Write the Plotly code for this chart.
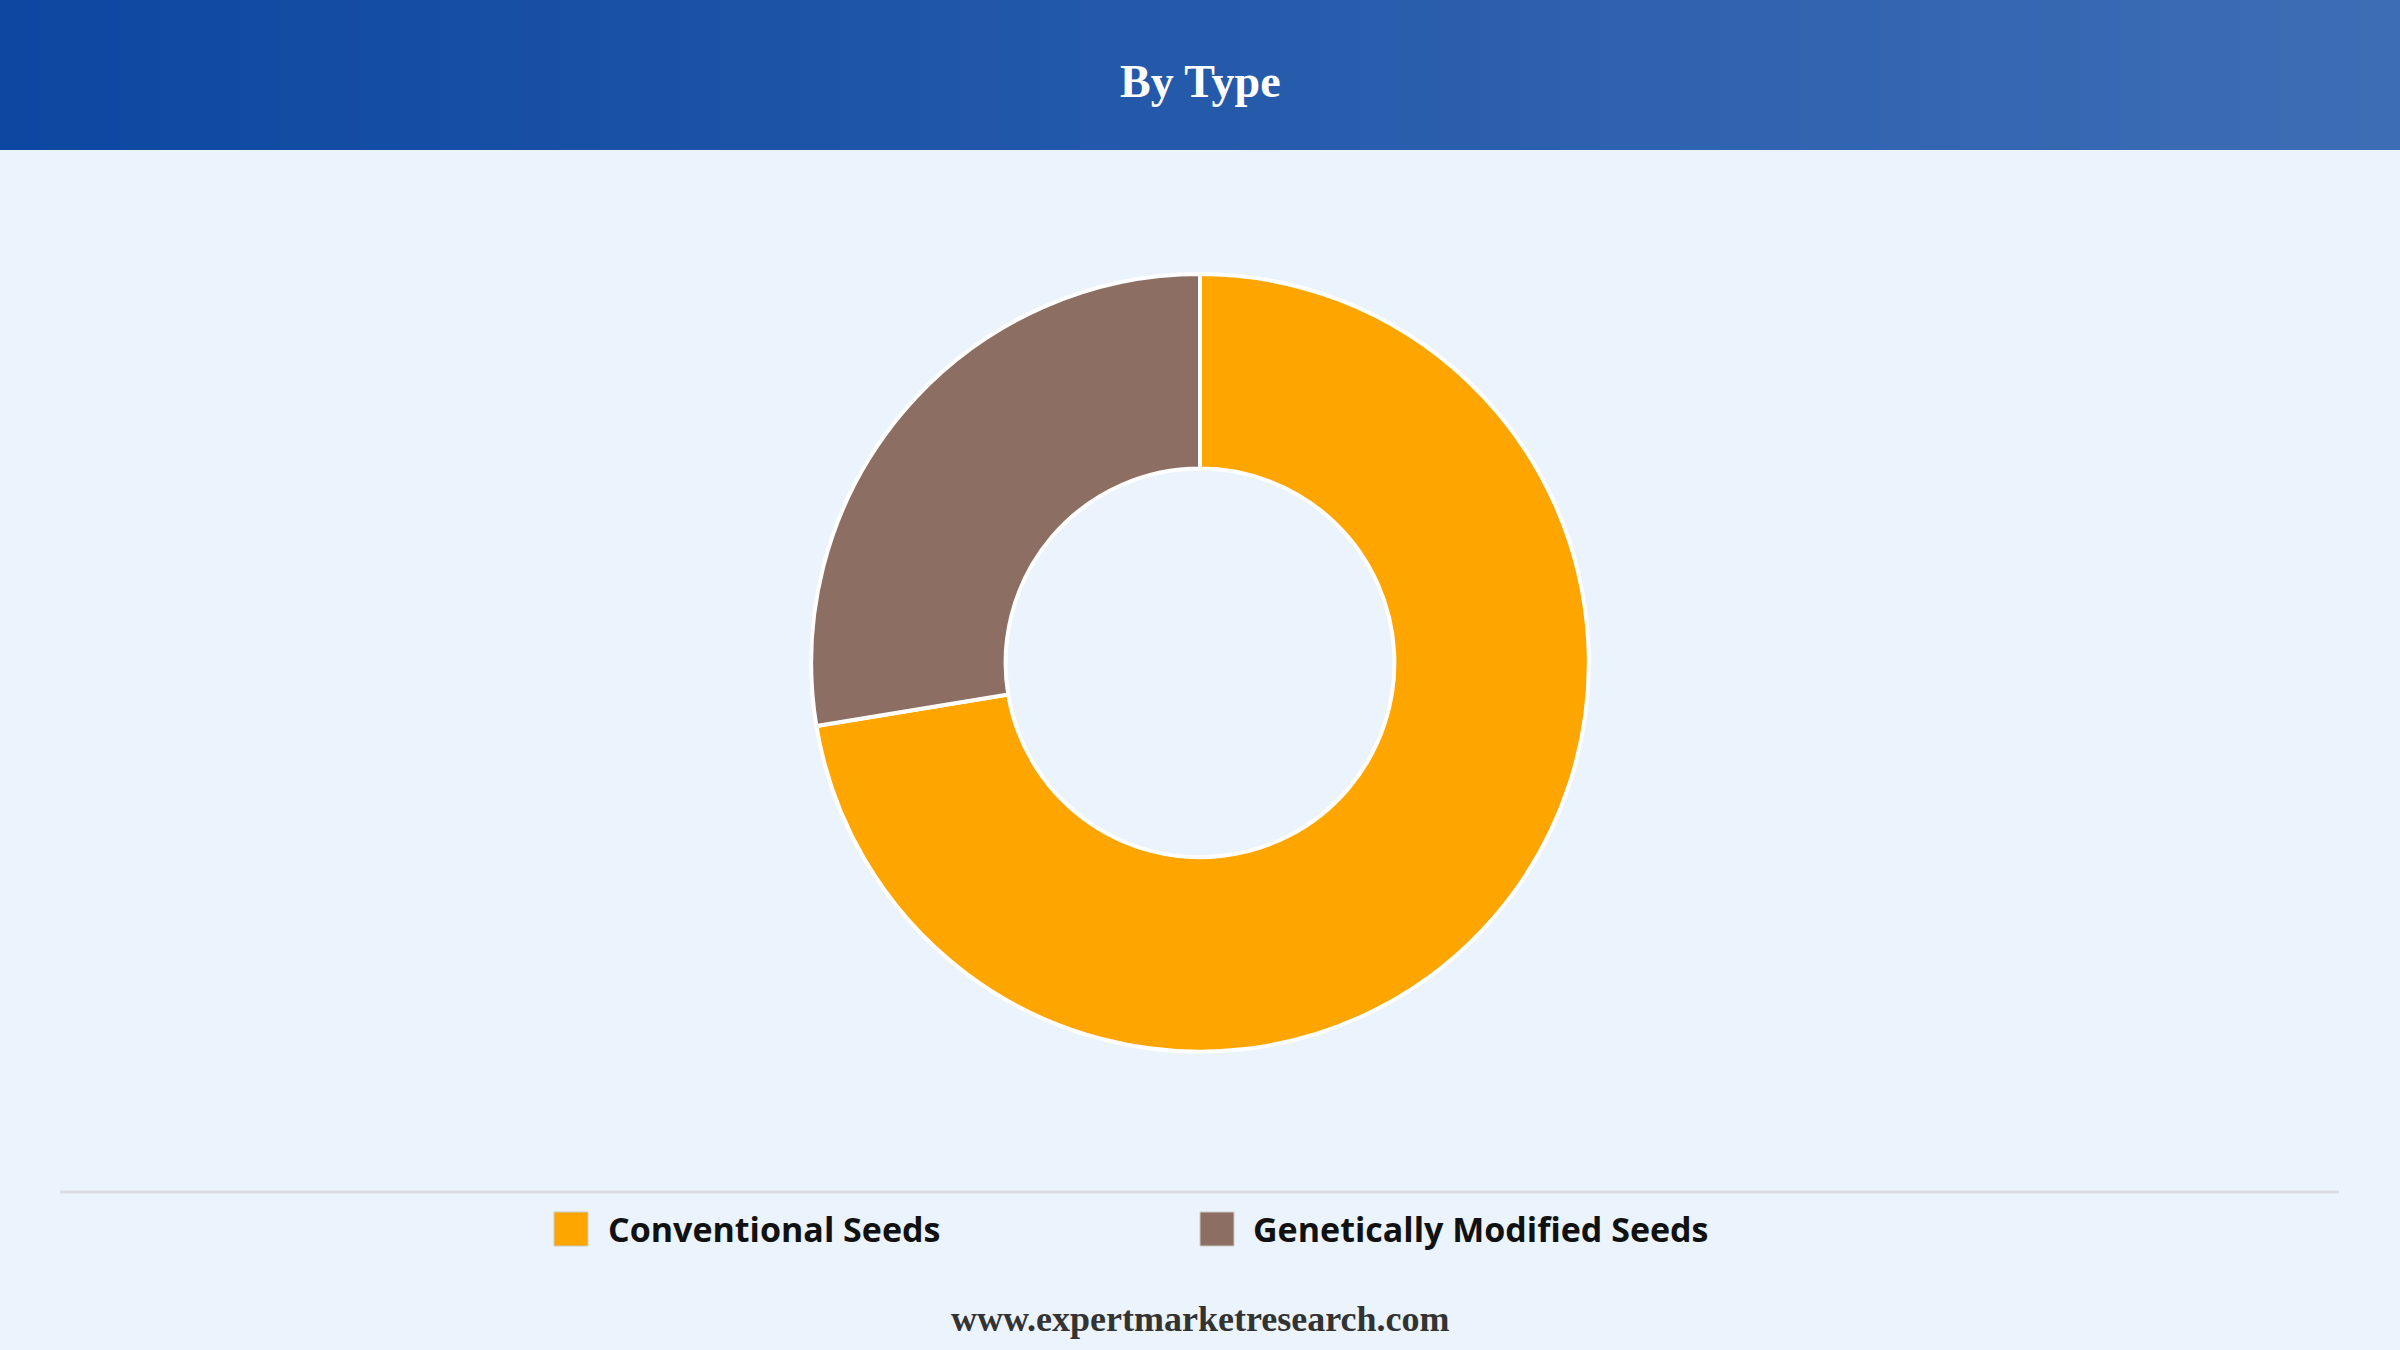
import plotly.graph_objects as go

labels = ["Conventional Seeds", "Genetically Modified Seeds"]
values = [72.4, 27.6]
colors = ["#FFA500", "#8D6E63"]
title = "By Type"
footer = "www.expertmarketresearch.com"

W, H = 2400, 1350
fig = go.Figure(go.Pie(
    labels=labels, values=values, hole=0.5, sort=False, direction="clockwise",
    rotation=0, marker=dict(colors=colors, line=dict(color="white", width=4)),
    textinfo="none", hoverinfo="label+percent",
    domain=dict(x=[0.338, 0.662], y=[0.221, 0.797]),
))

shapes = []
n = 60
c0, c1 = (13, 71, 161), (61, 109, 181)
for i in range(n):
    t = i / (n - 1)
    col = "rgb(%d,%d,%d)" % tuple(round(a + (b - a) * t) for a, b in zip(c0, c1))
    shapes.append(dict(type="rect", xref="paper", yref="paper", x0=i / n, x1=(i + 1) / n + 0.001,
                       y0=1 - 150 / H, y1=1, fillcolor=col, line=dict(width=0), layer="below"))
shapes.append(dict(type="line", xref="paper", yref="paper", x0=60 / W, x1=2339 / W,
                   y0=1 - 1192 / H, y1=1 - 1192 / H, line=dict(color="#D9DDE3", width=3)))

annotations = [
    dict(text="<b>" + title + "</b>", x=0.5, y=1 - 81 / H, xref="paper", yref="paper", yanchor="middle",
         showarrow=False, font=dict(family="Liberation Serif", size=46, color="white")),
    dict(text="<b>" + footer + "</b>", x=0.5, y=1 - 1319 / H, xref="paper", yref="paper", yanchor="middle",
         showarrow=False, font=dict(family="Liberation Serif", size=36, color="#333333")),
]
sq_x = [571, 1217]
tx_x = [606, 1251]
ly = 1229
for lab, col, sx, tx in zip(labels, colors, sq_x, tx_x):
    shapes.append(dict(type="rect", xref="paper", yref="paper",
                       x0=(sx - 17) / W, x1=(sx + 17) / W, y0=1 - (ly + 17) / H, y1=1 - (ly - 17) / H,
                       fillcolor=col, line=dict(color="#cccccc", width=1)))
    annotations.append(dict(text="<b>" + lab + "</b>", x=tx / W, y=1 - ly / H, xref="paper", yref="paper",
                            xanchor="left", yanchor="middle", showarrow=False,
                            font=dict(family="Open Sans", size=34, color="#111111")))

fig.update_layout(width=W, height=H, margin=dict(l=0, r=0, t=0, b=0),
                  paper_bgcolor="#EBF3FC", plot_bgcolor="#EBF3FC", showlegend=False,
                  shapes=shapes, annotations=annotations)
fig.write_html("out.html", config={"displayModeBar": False},
               post_script="document.body.style.margin='0';")
